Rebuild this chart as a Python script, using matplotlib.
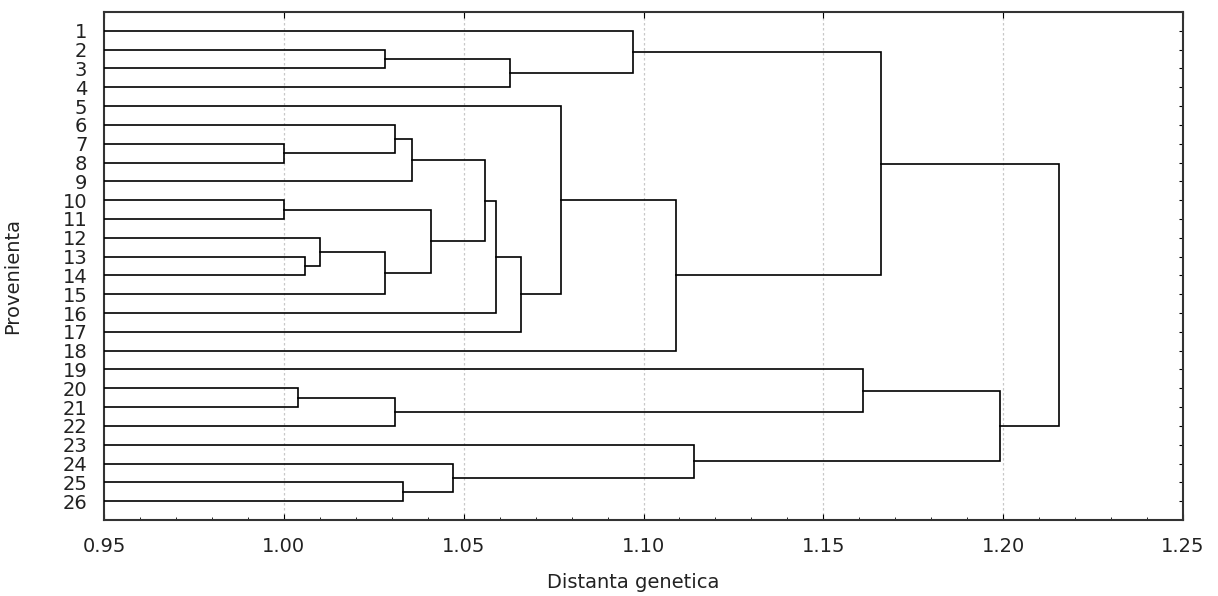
# -*- coding: utf-8 -*-
"""
dendrograma - distanta genetica intre provenientele 1..26
"""
import matplotlib
matplotlib.use('Agg')
import matplotlib.pyplot as plt
from matplotlib.ticker import MultipleLocator

# leaf labels, top to bottom
leaves = [str(i) for i in range(1, 27)]

# merges in order: ints are leaf numbers, 'cN' is the N-th merge
left_nodes = [7, 10, 20, 13, 12, 2, 'c4', 6, 'c2', 25, 'c7', 'c1', 24,
              'c10', 'c13', 'c5', 'c14', 5, 1, 'c17', 23, 19, 'c18', 'c21', 'c22']
right_nodes = [8, 11, 21, 14, 'c3', 3, 15, 'c0', 22, 26, 9, 'c6', 'c9',
               'c11', 16, 4, 17, 'c16', 'c15', 18, 'c12', 'c8', 'c19', 'c20', 'c23']
merge_dist = [1.000, 1.000, 1.004, 1.006, 1.010, 1.028, 1.028, 1.031, 1.031,
              1.033, 1.0355, 1.041, 1.047, 1.056, 1.059, 1.063, 1.066, 1.077,
              1.097, 1.109, 1.114, 1.161, 1.166, 1.199, 1.2155]

xmin, xmax = 0.95, 1.25
xticks = [0.95, 1.00, 1.05, 1.10, 1.15, 1.20, 1.25]


def node_pos(node, nodes):
    # leaf -> (distance, row) ; cluster -> stored value
    if isinstance(node, int):
        return xmin, float(node)
    return nodes[node]


def plot_dendro(ax):
    nodes = {}
    for i, (a, b, d) in enumerate(zip(left_nodes, right_nodes, merge_dist)):
        xa, ya = node_pos(a, nodes)
        xb, yb = node_pos(b, nodes)
        ax.plot([xa, d, d, xb], [ya, ya, yb, yb], '-', color='black', lw=1.2,
                solid_joinstyle='miter', zorder=3)
        nodes['c%d' % i] = (d, (ya + yb) / 2.)
    return


fig = plt.figure(figsize=(12.18, 5.96), dpi=100)
ax = fig.add_axes([0.0854, 0.1275, 0.8859, 0.8524])

plot_dendro(ax)

ax.set_xlim(xmin, xmax)
ax.set_ylim(27, 0)
ax.set_xticks(xticks)
ax.set_xticklabels(['%.2f' % v for v in xticks], fontsize=14, color='#222222')
ax.xaxis.set_minor_locator(MultipleLocator(0.01))
ax.set_yticks(range(1, 27))
ax.set_yticklabels(leaves, fontsize=14, color='#222222')

ax.tick_params(axis='x', which='both', direction='in', top=True, bottom=True, pad=12)
ax.tick_params(axis='x', which='major', length=4)
ax.tick_params(axis='x', which='minor', length=2, top=False)
ax.tick_params(axis='y', which='both', direction='in', left=False, right=True,
               length=3, pad=12)

for v in xticks[1:-1]:
    ax.axvline(v, color='#c8c8c8', lw=0.9, ls=(0, (2, 2)), zorder=1)

for s in ax.spines.values():
    s.set_linewidth(1.5)
    s.set_color('#333333')

ax.set_xlabel('Distanta genetica', fontsize=14, color='#222222')
ax.set_ylabel('Provenienta', fontsize=14, color='#222222')
ax.xaxis.set_label_coords(0.49, -0.105)
ax.yaxis.set_label_coords(-0.076, 0.48)

fig.savefig('out.png', dpi=100)
